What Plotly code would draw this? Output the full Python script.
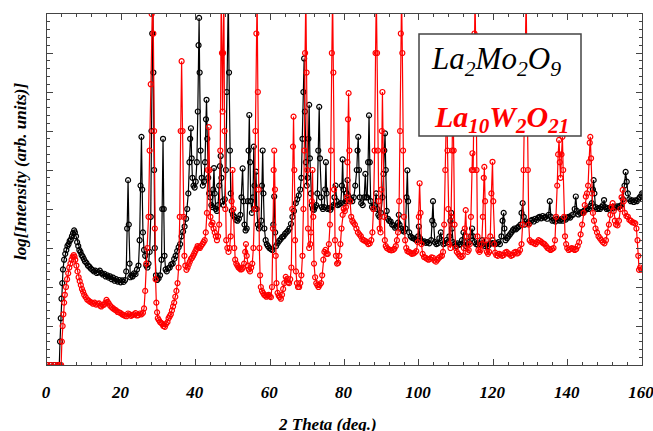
import plotly.graph_objects as go

# (2-theta [deg], log10 intensity) pairs
la2mo2o9 = [
    (0, 0), (1, 0), (2, 0), (3, 0), (3.3, 0), (3.5, 0.6), (3.7, 1.2), (3.9, 1.7), (4.1, 2.1), (4.3, 2.45),
    (4.6, 2.7), (4.9, 2.85), (5.2, 2.95), (5.5, 3.05), (5.8, 3.1), (6.1, 3.18), (6.4, 3.22), (6.7, 3.3),
    (7.0, 3.38), (7.3, 3.45), (7.5, 3.4), (7.8, 3.3), (8.1, 3.15), (8.4, 3.05), (8.7, 2.95), (9.0, 2.9),
    (9.3, 2.82), (9.6, 2.78), (9.9, 2.72), (10.2, 2.66), (10.6, 2.62), (11.0, 2.55), (11.4, 2.52),
    (11.8, 2.47), (12.2, 2.44), (12.6, 2.4), (13.0, 2.42), (13.4, 2.36), (13.8, 2.38), (14.2, 2.42),
    (14.6, 2.36), (15.0, 2.32), (15.4, 2.34), (15.8, 2.27), (16.2, 2.3), (16.6, 2.24), (17.0, 2.27),
    (17.4, 2.2), (17.8, 2.24), (18.2, 2.16), (18.6, 2.2), (19.0, 2.14), (19.4, 2.18), (19.8, 2.12),
    (20.2, 2.17), (20.6, 2.13), (21.0, 2.18), (21.3, 2.4), (21.55, 3.5), (21.8, 4.74), (22.0, 3.6),
    (22.2, 2.6), (22.4, 2.25), (22.7, 2.3), (23.0, 2.27), (23.4, 2.35), (23.8, 2.33), (24.2, 2.45),
    (24.6, 2.55), (24.9, 3.2), (25.15, 4.6), (25.4, 5.85), (25.6, 4.5), (25.8, 3.4), (26.1, 2.95),
    (26.4, 2.8), (26.7, 2.55), (27.0, 2.5), (27.3, 2.6), (27.6, 2.9), (27.9, 3.8), (28.1, 6.0),
    (28.3, 8.5), (28.45, 9.5), (28.6, 7.5), (28.8, 5.0), (29.0, 3.0), (29.3, 2.3), (29.6, 2.18),
    (30.0, 2.22), (30.4, 2.3), (30.8, 2.7), (31.0, 4.0), (31.2, 5.8), (31.4, 4.0), (31.6, 2.8),
    (31.9, 2.45), (32.2, 2.4), (32.6, 2.48), (33.0, 2.5), (33.4, 2.58), (33.8, 2.6), (34.2, 2.72),
    (34.6, 2.8), (35.0, 2.92), (35.4, 3.02), (35.8, 3.1), (36.2, 3.3), (36.6, 3.42), (37.0, 3.55),
    (37.4, 3.75), (37.7, 4.0), (38.0, 4.4), (38.3, 5.2), (38.5, 5.8), (38.7, 6.07), (38.9, 5.3),
    (39.1, 4.8), (39.4, 4.6), (39.7, 4.55), (40.0, 4.7), (40.3, 5.2), (40.55, 6.5), (40.75, 8.2),
    (40.9, 8.9), (41.05, 7.5), (41.3, 5.5), (41.6, 4.8), (41.9, 4.6), (42.2, 4.7), (42.5, 5.2),
    (42.75, 6.3), (42.9, 6.8), (43.1, 5.8), (43.35, 4.8), (43.6, 4.4), (43.9, 4.3), (44.2, 4.1),
    (44.5, 4.05), (44.7, 4.5), (44.9, 5.05), (45.1, 4.4), (45.4, 4.0), (45.7, 3.95), (46.0, 4.1),
    (46.3, 4.6), (46.5, 5.1), (46.7, 5.36), (46.9, 4.8), (47.2, 4.2), (47.5, 4.1), (47.8, 4.25),
    (48.1, 5.0), (48.35, 7.0), (48.55, 9.5), (48.75, 9.5), (48.95, 7.5), (49.2, 5.5), (49.4, 4.4),
    (49.7, 3.95), (50.0, 3.85), (50.4, 3.8), (50.8, 3.72), (51.2, 3.7), (51.6, 3.75), (52.0, 3.85),
    (52.3, 4.3), (52.6, 5.04), (52.85, 4.2), (53.1, 3.6), (53.4, 3.45), (53.7, 3.5), (54.0, 4.2),
    (54.2, 5.5), (54.4, 6.41), (54.6, 5.2), (54.8, 4.2), (55.1, 3.9), (55.4, 4.3), (55.6, 5.6),
    (55.8, 4.6), (56.0, 4.0), (56.2, 4.96), (56.4, 4.0), (56.7, 3.6), (57.0, 3.5), (57.3, 3.55),
    (57.6, 3.7), (57.8, 4.6), (58.0, 5.5), (58.2, 4.4), (58.45, 3.5), (58.8, 3.2), (59.1, 3.1),
    (59.4, 3.05), (59.8, 3.0), (60.2, 2.97), (60.6, 2.95), (60.85, 3.6), (61.1, 4.32), (61.35, 3.4),
    (61.6, 3.05), (62.0, 3.12), (62.4, 3.18), (62.8, 3.22), (63.2, 3.28), (63.6, 3.3), (64.0, 3.36),
    (64.4, 3.4), (64.8, 3.44), (65.2, 3.5), (65.6, 3.62), (66.0, 3.8), (66.4, 3.95), (66.9, 4.15),
    (67.3, 4.25), (67.7, 4.35), (68.1, 4.5), (68.4, 4.8), (68.7, 5.8), (68.95, 7.0), (69.15, 7.86),
    (69.35, 6.5), (69.6, 5.2), (69.85, 4.6), (70.1, 4.8), (70.3, 5.8), (70.5, 6.67), (70.7, 5.3),
    (70.95, 4.4), (71.2, 4.1), (71.5, 4.0), (71.8, 3.98), (72.1, 4.05), (72.4, 4.1), (72.7, 4.4),
    (72.95, 5.5), (73.2, 6.62), (73.4, 5.3), (73.65, 4.3), (73.9, 4.05), (74.2, 4.0), (74.5, 4.05),
    (74.8, 4.5), (75.0, 5.2), (75.2, 4.4), (75.5, 4.0), (75.8, 4.02), (76.2, 3.98), (76.6, 4.05),
    (77.0, 4.1), (77.3, 4.3), (77.6, 4.6), (77.9, 4.2), (78.2, 4.1), (78.6, 4.12), (79.0, 4.15),
    (79.3, 4.6), (79.5, 5.27), (79.7, 4.5), (79.95, 4.15), (80.3, 4.2), (80.6, 4.4), (80.8, 4.74),
    (81.0, 4.35), (81.3, 4.2), (81.7, 4.25), (82.1, 4.2), (82.5, 4.3), (82.9, 4.6), (83.3, 5.0),
    (83.5, 5.5), (83.7, 5.85), (83.9, 5.0), (84.1, 4.3), (84.5, 4.15), (84.9, 4.1), (85.3, 4.3),
    (85.6, 4.9), (85.85, 4.3), (86.1, 4.3), (86.35, 5.2), (86.6, 6.4), (86.8, 5.2), (87.05, 4.2),
    (87.4, 4.05), (87.8, 4.0), (88.2, 4.1), (88.5, 4.4), (88.8, 4.0), (89.1, 3.85), (89.4, 3.8),
    (89.8, 3.9), (90.2, 4.3), (90.5, 4.9), (90.7, 5.5), (90.9, 5.94), (91.1, 5.0), (91.35, 3.95),
    (91.7, 3.75), (92.0, 3.7), (92.4, 3.68), (92.8, 3.6), (93.2, 3.58), (93.6, 3.52), (94.0, 3.55),
    (94.4, 3.65), (94.6, 3.85), (94.8, 3.6), (95.2, 3.5), (95.6, 3.45), (96.0, 3.42), (96.4, 3.5),
    (96.7, 4.3), (96.9, 4.99), (97.1, 4.2), (97.4, 3.4), (97.8, 3.3), (98.2, 3.26), (98.6, 3.25),
    (99.0, 3.22), (99.4, 3.2), (99.8, 3.3), (100.0, 3.55), (100.3, 3.25), (100.7, 3.18), (101.1, 3.15),
    (101.5, 3.17), (101.9, 3.13), (102.3, 3.15), (102.8, 3.12), (103.3, 3.2), (103.6, 3.7), (103.8, 4.2),
    (104.0, 3.6), (104.3, 3.15), (104.7, 3.1), (105.1, 3.12), (105.5, 3.25), (105.9, 3.4), (106.2, 3.2),
    (106.6, 3.1), (107.0, 3.12), (107.4, 3.2), (107.8, 3.15), (108.2, 3.3), (108.5, 3.7), (108.7, 3.9),
    (108.9, 3.5), (109.2, 3.15), (109.6, 3.1), (110.0, 3.05), (110.4, 3.12), (110.8, 3.08), (111.2, 3.1),
    (111.6, 3.2), (112.0, 3.4), (112.3, 3.15), (112.7, 3.05), (113.1, 3.1), (113.5, 3.15), (113.9, 3.3),
    (114.3, 3.5), (114.6, 3.3), (115.0, 3.15), (115.4, 3.1), (115.8, 3.08), (116.2, 3.12), (116.6, 3.1),
    (117.0, 3.2), (117.4, 3.1), (117.8, 3.05), (118.2, 3.08), (118.6, 3.05), (119.0, 3.1), (119.4, 3.12),
    (119.8, 3.2), (120.2, 3.12), (120.6, 3.1), (121.0, 3.12), (121.4, 3.15), (121.8, 3.1), (122.2, 3.3),
    (122.5, 3.7), (122.8, 3.9), (123.0, 3.5), (123.3, 3.2), (123.7, 3.25), (124.1, 3.3), (124.5, 3.35),
    (124.9, 3.4), (125.3, 3.46), (125.7, 3.5), (126.1, 3.48), (126.5, 3.52), (126.9, 3.55), (127.3, 3.6),
    (127.6, 3.9), (127.9, 4.15), (128.2, 3.8), (128.5, 3.6), (128.9, 3.68), (129.3, 3.65), (129.7, 3.63),
    (130.1, 3.7), (130.5, 3.72), (130.9, 3.68), (131.3, 3.75), (131.7, 3.72), (132.1, 3.78), (132.5, 3.8),
    (132.9, 3.76), (133.3, 3.82), (133.7, 3.78), (134.1, 3.8), (134.5, 3.75), (134.9, 3.85), (135.2, 4.2),
    (135.5, 3.8), (135.9, 3.7), (136.3, 3.72), (136.7, 3.68), (137.1, 3.75), (137.5, 3.72), (137.9, 3.7),
    (138.3, 3.74), (138.7, 3.7), (139.1, 3.76), (139.5, 3.73), (139.9, 3.78), (140.3, 3.8), (140.7, 3.78),
    (141.1, 3.84), (141.5, 3.86), (141.9, 4.0), (142.2, 4.32), (142.5, 3.95), (142.9, 3.86), (143.3, 3.9),
    (143.7, 3.92), (144.1, 3.9), (144.5, 3.96), (144.9, 3.98), (145.3, 4.02), (145.7, 4.0), (146.1, 4.08),
    (146.5, 4.15), (146.8, 4.5), (147.0, 4.74), (147.2, 4.4), (147.5, 4.05), (147.9, 4.0), (148.3, 4.02),
    (148.7, 4.0), (149.1, 4.05), (149.5, 4.1), (149.8, 4.23), (150.1, 4.05), (150.5, 4.0), (150.9, 4.02),
    (151.3, 3.98), (151.7, 4.05), (152.1, 4.02), (152.5, 4.06), (152.9, 4.04), (153.3, 4.07), (153.7, 4.05),
    (154.1, 4.08), (154.5, 4.1), (154.9, 4.25), (155.3, 4.6), (155.6, 4.95), (155.9, 4.7), (156.2, 4.4),
    (156.6, 4.25), (157.0, 4.2), (157.4, 4.22), (157.8, 4.18), (158.2, 4.22), (158.6, 4.2), (159.0, 4.25),
    (159.4, 4.3), (159.8, 4.35), (160.0, 4.4),
]

la10w2o21 = [
    (0, 0), (1, 0), (2, 0), (3, 0), (3.5, 0), (3.8, 0), (4.0, 0.6), (4.2, 1.0), (4.4, 1.3), (4.6, 1.6),
    (4.8, 1.8), (5.1, 2.0), (5.4, 2.2), (5.7, 2.35), (6.0, 2.5), (6.3, 2.6), (6.6, 2.7), (6.9, 2.78),
    (7.2, 2.82), (7.4, 2.78), (7.6, 2.7), (7.9, 2.55), (8.2, 2.4), (8.5, 2.25), (8.8, 2.15), (9.1, 2.05),
    (9.4, 1.95), (9.7, 1.88), (10.0, 1.8), (10.4, 1.74), (10.8, 1.68), (11.2, 1.65), (11.6, 1.62),
    (12.0, 1.6), (12.4, 1.57), (12.8, 1.6), (13.2, 1.55), (13.6, 1.57), (14.0, 1.58), (14.3, 1.52),
    (14.6, 1.5), (15.0, 1.54), (15.4, 1.55), (15.7, 1.6), (16.0, 1.67), (16.3, 1.62), (16.6, 1.58),
    (17.0, 1.52), (17.4, 1.48), (17.8, 1.45), (18.2, 1.42), (18.6, 1.4), (19.0, 1.36), (19.4, 1.35),
    (19.8, 1.33), (20.2, 1.3), (20.6, 1.28), (21.0, 1.26), (21.4, 1.25), (21.8, 1.32), (22.2, 1.3),
    (22.6, 1.26), (23.0, 1.28), (23.4, 1.3), (23.8, 1.33), (24.2, 1.27), (24.6, 1.28), (25.0, 1.32),
    (25.4, 1.3), (25.8, 1.34), (26.1, 1.45), (26.4, 1.9), (26.7, 2.6), (27.0, 3.0), (27.3, 3.8),
    (27.6, 5.5), (27.9, 7.2), (28.15, 9.0), (28.4, 9.5), (28.6, 8.5), (28.8, 6.0), (29.0, 3.5),
    (29.2, 2.2), (29.4, 1.6), (29.6, 1.35), (29.8, 1.2), (30.1, 1.15), (30.4, 1.1), (30.7, 1.08),
    (31.0, 1.05), (31.3, 1.0), (31.7, 0.98), (32.0, 1.05), (32.4, 1.1), (32.7, 1.2), (33.0, 1.25),
    (33.3, 1.3), (33.6, 1.4), (33.9, 1.5), (34.2, 1.6), (34.5, 1.75), (34.8, 1.9), (35.1, 2.1),
    (35.4, 2.5), (35.7, 3.8), (35.95, 6.0), (36.2, 7.79), (36.45, 6.0), (36.7, 3.8), (36.95, 2.8),
    (37.2, 2.55), (37.5, 2.44), (37.8, 2.5), (38.1, 2.58), (38.4, 2.65), (38.7, 2.72), (39.0, 2.75),
    (39.3, 2.8), (39.6, 2.86), (39.9, 2.92), (40.2, 2.98), (40.5, 3.05), (40.8, 3.02), (41.1, 3.0),
    (41.4, 3.05), (41.8, 3.1), (42.1, 3.15), (42.4, 3.2), (42.7, 3.4), (43.0, 3.9), (43.25, 5.0),
    (43.5, 6.1), (43.7, 5.0), (43.95, 3.8), (44.2, 3.6), (44.5, 3.65), (44.8, 3.5), (45.1, 3.4),
    (45.4, 3.3), (45.7, 3.2), (46.0, 3.3), (46.3, 3.6), (46.6, 5.5), (46.85, 9.5), (47.05, 8.0),
    (47.2, 6.5), (47.35, 8.0), (47.55, 9.5), (47.75, 6.0), (47.95, 4.0), (48.2, 3.2), (48.5, 3.0),
    (48.8, 2.9), (49.1, 3.0), (49.4, 3.3), (49.65, 4.2), (49.9, 5.0), (50.1, 4.0), (50.35, 3.0),
    (50.6, 2.7), (50.9, 2.6), (51.2, 2.55), (51.5, 2.5), (51.8, 2.48), (52.1, 2.45), (52.4, 2.46),
    (52.7, 2.5), (53.0, 2.6), (53.3, 2.9), (53.5, 3.1), (53.7, 2.8), (54.0, 2.55), (54.3, 2.45),
    (54.6, 2.4), (54.9, 2.5), (55.2, 2.6), (55.5, 3.0), (55.8, 4.0), (56.05, 6.0), (56.3, 8.5),
    (56.5, 9.5), (56.7, 7.0), (56.9, 4.5), (57.1, 3.0), (57.3, 2.3), (57.5, 2.0), (57.8, 1.9),
    (58.1, 1.85), (58.4, 1.8), (58.7, 1.78), (59.0, 1.75), (59.3, 1.78), (59.6, 1.8), (59.9, 1.76),
    (60.2, 1.74), (60.5, 2.0), (60.75, 3.5), (60.95, 5.0), (61.1, 5.5), (61.3, 4.5), (61.5, 2.8),
    (61.7, 2.1), (62.0, 1.85), (62.3, 1.78), (62.6, 1.74), (62.9, 1.7), (63.2, 1.8), (63.5, 1.95),
    (63.8, 2.1), (64.2, 2.26), (64.5, 2.2), (64.8, 2.12), (65.1, 2.1), (65.4, 2.2), (65.7, 2.5),
    (65.95, 4.0), (66.15, 5.6), (66.3, 6.37), (66.5, 5.0), (66.7, 3.2), (66.95, 2.4), (67.2, 2.1),
    (67.5, 2.0), (67.8, 2.0), (68.1, 2.1), (68.4, 2.3), (68.7, 2.8), (68.95, 4.0), (69.2, 5.5),
    (69.4, 8.0), (69.6, 9.5), (69.8, 7.5), (70.0, 5.0), (70.2, 3.5), (70.5, 3.0), (70.8, 3.1),
    (71.0, 3.4), (71.2, 4.2), (71.4, 5.0), (71.6, 3.8), (71.8, 2.6), (72.1, 2.25), (72.4, 2.1),
    (72.7, 2.05), (73.0, 2.0), (73.3, 2.05), (73.7, 2.1), (74.0, 2.3), (74.3, 2.7), (74.6, 2.9),
    (74.9, 2.95), (75.2, 2.85), (75.5, 2.85), (75.8, 3.1), (76.1, 3.6), (76.4, 5.5), (76.6, 8.0),
    (76.8, 9.5), (77.0, 7.5), (77.2, 4.5), (77.45, 3.2), (77.7, 2.8), (78.0, 2.6), (78.3, 2.62),
    (78.6, 2.8), (78.9, 3.1), (79.2, 3.5), (79.5, 3.85), (79.8, 4.0), (80.1, 3.95), (80.4, 4.05),
    (80.6, 4.3), (80.8, 5.2), (80.95, 6.3), (81.1, 6.97), (81.3, 5.5), (81.5, 4.2), (81.8, 3.8),
    (82.1, 3.7), (82.4, 3.65), (82.8, 3.6), (83.2, 3.5), (83.6, 3.4), (84.0, 3.35), (84.4, 3.3),
    (84.8, 3.22), (85.2, 3.2), (85.6, 3.18), (86.0, 3.15), (86.4, 3.1), (86.8, 3.12), (87.2, 3.2),
    (87.5, 3.4), (87.8, 4.0), (88.1, 5.5), (88.35, 8.0), (88.55, 9.5), (88.75, 8.0), (88.95, 5.5),
    (89.2, 4.2), (89.45, 3.5), (89.7, 3.4), (89.9, 4.5), (90.05, 6.0), (90.2, 7.0), (90.4, 5.5),
    (90.6, 3.8), (90.85, 3.2), (91.1, 3.05), (91.4, 3.0), (91.8, 2.97), (92.2, 2.95), (92.6, 2.94),
    (93.0, 2.95), (93.4, 2.98), (93.8, 3.05), (94.1, 3.2), (94.4, 3.4), (94.7, 4.2), (94.95, 6.0),
    (95.15, 8.5), (95.35, 9.5), (95.55, 8.0), (95.75, 5.5), (96.0, 3.8), (96.3, 3.2), (96.6, 3.0),
    (96.9, 2.92), (97.3, 2.9), (97.7, 2.88), (98.1, 2.85), (98.5, 2.86), (98.9, 2.88), (99.3, 2.92),
    (99.7, 3.15), (100.0, 3.8), (100.2, 4.66), (100.45, 3.9), (100.7, 3.1), (101.0, 2.85), (101.4, 2.77),
    (101.8, 2.75), (102.2, 2.72), (102.6, 2.7), (103.0, 2.72), (103.4, 2.76), (103.8, 2.75), (104.2, 2.68),
    (104.6, 2.65), (105.0, 2.7), (105.4, 2.75), (105.8, 2.78), (106.2, 2.8), (106.5, 2.9), (106.8, 3.6),
    (107.1, 5.0), (107.3, 6.5), (107.5, 7.0), (107.7, 5.5), (107.9, 4.0), (108.2, 3.1), (108.5, 3.0),
    (108.7, 3.8), (108.95, 5.5), (109.15, 7.2), (109.35, 5.5), (109.6, 3.6), (109.9, 3.0), (110.2, 2.9),
    (110.6, 2.85), (111.0, 2.8), (111.4, 2.77), (111.8, 2.8), (112.1, 3.0), (112.35, 3.5), (112.6, 3.97),
    (112.85, 3.3), (113.1, 2.9), (113.4, 2.95), (113.7, 3.1), (114.0, 3.8), (114.25, 5.0), (114.4, 5.43),
    (114.6, 5.0), (114.8, 6.5), (114.95, 8.5), (115.1, 9.5), (115.3, 8.0), (115.5, 5.0), (115.75, 3.3),
    (116.0, 2.95), (116.3, 2.9), (116.6, 2.95), (116.9, 3.1), (117.2, 3.8), (117.45, 4.8), (117.6, 5.08),
    (117.8, 4.2), (118.0, 3.2), (118.3, 2.9), (118.6, 2.85), (118.9, 2.9), (119.2, 3.3), (119.5, 4.4),
    (119.8, 5.21), (120.0, 4.2), (120.25, 3.1), (120.5, 2.88), (120.8, 2.82), (121.2, 2.8), (121.6, 2.85),
    (122.0, 2.83), (122.4, 2.8), (122.8, 2.82), (123.2, 2.88), (123.6, 2.9), (124.0, 2.86), (124.4, 2.84),
    (124.8, 2.8), (125.2, 2.82), (125.6, 2.88), (126.0, 2.9), (126.4, 2.86), (126.8, 2.88), (127.2, 2.95),
    (127.6, 3.1), (127.9, 3.6), (128.15, 5.0), (128.4, 7.5), (128.6, 9.5), (128.85, 9.5), (129.05, 7.5),
    (129.3, 5.0), (129.55, 3.6), (129.8, 3.2), (130.2, 3.15), (130.6, 3.15), (131.0, 3.12), (131.4, 3.1),
    (131.8, 3.15), (132.2, 3.2), (132.6, 3.18), (133.0, 3.15), (133.4, 3.12), (133.8, 3.1), (134.2, 3.05),
    (134.6, 3.0), (135.0, 2.98), (135.4, 2.95), (135.8, 2.97), (136.2, 3.0), (136.6, 3.2), (136.9, 3.8),
    (137.2, 4.6), (137.45, 5.4), (137.7, 5.77), (137.9, 5.2), (138.1, 4.8), (138.35, 5.4), (138.6, 5.85),
    (138.8, 5.0), (139.05, 3.8), (139.3, 3.3), (139.6, 3.1), (139.9, 3.0), (140.3, 2.95), (140.7, 2.97),
    (141.1, 3.0), (141.5, 2.98), (141.9, 2.95), (142.3, 2.97), (142.7, 3.05), (143.1, 3.15), (143.5, 3.35),
    (143.9, 3.6), (144.3, 3.9), (144.6, 4.1), (144.9, 4.32), (145.2, 4.4), (145.5, 4.6), (145.75, 5.2),
    (145.95, 5.7), (146.1, 5.85), (146.3, 5.3), (146.55, 4.4), (146.8, 3.9), (147.1, 3.7), (147.5, 3.5),
    (147.9, 3.4), (148.3, 3.3), (148.7, 3.25), (149.1, 3.2), (149.5, 3.15), (149.9, 3.12), (150.3, 3.2),
    (150.7, 3.4), (151.1, 3.6), (151.5, 3.85), (151.8, 4.05), (152.1, 4.15), (152.4, 3.95), (152.7, 3.7),
    (153.0, 3.6), (153.4, 3.58), (153.8, 3.7), (154.2, 4.0), (154.5, 4.3), (154.8, 4.49), (155.1, 4.2),
    (155.4, 3.9), (155.8, 3.82), (156.2, 3.8), (156.6, 3.72), (157.0, 3.7), (157.4, 3.66), (157.8, 3.65),
    (158.2, 3.63), (158.5, 3.5), (158.8, 3.2), (159.0, 2.8), (159.2, 2.44), (159.5, 2.5), (159.8, 2.45),
    (160.0, 2.45),
]

la2mo2o9_x = [p[0] for p in la2mo2o9]
la2mo2o9_y = [p[1] for p in la2mo2o9]
la10w2o21_x = [p[0] for p in la10w2o21]
la10w2o21_y = [p[1] for p in la10w2o21]

x_ticks = [0, 20, 40, 60, 80, 100, 120, 140, 160]

L, R, T, B = 47, 11, 14, 66
W, H = 653, 431
PW, PH = W - L - R, H - T - B


def px(xp):
    return (xp - L) / PW


def py(yp):
    return (H - B - yp) / PH


fig = go.Figure()
fig.add_trace(go.Scatter(
    x=la2mo2o9_x, y=la2mo2o9_y, mode="lines+markers",
    line=dict(color="black", width=1.2),
    marker=dict(symbol="circle-open", size=5, color="black", line=dict(width=1.2)),
    showlegend=False,
))
fig.add_trace(go.Scatter(
    x=la10w2o21_x, y=la10w2o21_y, mode="lines+markers",
    line=dict(color="#ff0000", width=1.2),
    marker=dict(symbol="circle-open", size=5, color="#ff0000", line=dict(width=1.2)),
    showlegend=False,
))

tickfont = dict(family="Liberation Serif", size=17, color="black", weight="bold", style="italic")
axcol = "#444444"

fig.update_xaxes(
    range=[0, 160], tickvals=x_ticks, ticktext=[str(v) for v in x_ticks],
    ticks="inside", ticklen=6, tickwidth=1, tickcolor=axcol,
    minor=dict(dtick=4, ticks="inside", ticklen=3, tickcolor=axcol, tickwidth=1),
    showline=True, linecolor=axcol, linewidth=1, mirror="ticks",
    showgrid=False, zeroline=False, tickfont=tickfont, ticklabelstandoff=12,
    ticklabelshift=-1, ticklabeloverflow="allow", automargin=False,
)
fig.update_yaxes(
    range=[0, 9], dtick=1, tick0=0, showticklabels=False,
    ticks="inside", ticklen=6, tickwidth=1, tickcolor=axcol,
    minor=dict(dtick=0.2, ticks="inside", ticklen=3, tickcolor=axcol, tickwidth=1),
    showline=True, linecolor=axcol, linewidth=1, mirror="ticks",
    showgrid=False, zeroline=False, automargin=False,
)

fig.add_shape(type="rect", xref="paper", yref="paper",
              x0=px(419), x1=px(581), y0=py(136), y1=py(34),
              fillcolor="white", line=dict(color="#444444", width=1.5), layer="above")

fig.add_annotation(xref="paper", yref="paper", x=px(496), y=py(61), showarrow=False,
                   xanchor="center", yanchor="middle",
                   text="La<sub>2</sub>Mo<sub>2</sub>O<sub>9</sub>",
                   font=dict(family="Liberation Serif", size=31, color="black", style="italic"))
fig.add_annotation(xref="paper", yref="paper", x=px(501), y=py(119), showarrow=False,
                   xanchor="center", yanchor="middle",
                   text="La<sub>10</sub>W<sub>2</sub>O<sub>21</sub>",
                   font=dict(family="Liberation Serif", size=30, color="#ff0000",
                             style="italic", weight="bold"))

titlefont = dict(family="Liberation Serif", size=17, color="black", weight="bold", style="italic")
fig.add_annotation(xref="paper", yref="paper", x=px(327), y=py(424), showarrow=False,
                   xanchor="center", yanchor="middle",
                   text="2 Theta (deg.)", font=titlefont)
fig.add_annotation(xref="paper", yref="paper", x=px(20), y=py(172), showarrow=False,
                   xanchor="center", yanchor="middle",
                   text="log[Intensity (arb. units)]", textangle=-90, font=titlefont)

fig.update_layout(
    width=W, height=H, margin=dict(l=L, r=R, t=T, b=B, autoexpand=False),
    paper_bgcolor="white", plot_bgcolor="white",
)

fig.write_html("out.html")
